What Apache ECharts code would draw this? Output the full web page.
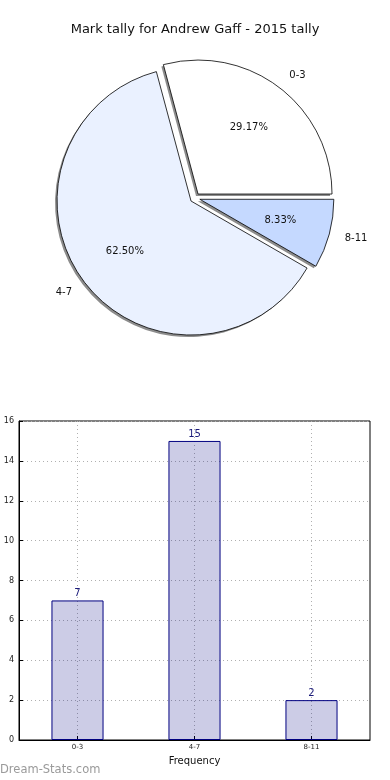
<!DOCTYPE html>
<html>
<head>
<meta charset="utf-8">
<script src="https://cdn.jsdelivr.net/npm/echarts@6/dist/echarts.min.js"></script>
<style>
html,body{margin:0;padding:0;background:#fff;}
#chart{width:390px;height:780px;}
</style>
</head>
<body>
<div id="chart"></div>
<script>
var titleText = 'Mark tally for Andrew Gaff - 2015 tally';
var categories = ['0-3', '4-7', '8-11'];
var counts = [7, 15, 2];
var percentLabels = ['29.17%', '62.50%', '8.33%'];
var sliceColors = ['#ffffff', '#eaf1ff', '#c5d9ff'];
var yTicks = [0, 2, 4, 6, 8, 10, 12, 14, 16];
var xAxisName = 'Frequency';
var yAxisName = 'Games with tally';
var watermark = 'Dream-Stats.com';

var FONT = '"DejaVu Sans", sans-serif';
var C = [195, 198];
var R = 134;

function pieData(extra) {
  return categories.map(function (c, i) {
    var d = { name: c, value: counts[i], selected: true };
    if (extra) extra(d, i);
    return d;
  });
}

var pieBase = { type: 'pie', startAngle: 0, clockwise: false, selectedMode: 'multiple', selectedOffset: 5, silent: true, emphasis: { disabled: true } };

var chart = echarts.init(document.getElementById('chart'), null, { renderer: 'canvas' });
chart.setOption({
  animation: false,
  backgroundColor: '#ffffff',
  title: [
    { text: titleText, left: 'center', top: 23, padding: 0, textStyle: { fontFamily: FONT, fontSize: 13, fontWeight: 'normal', color: '#111' } },
    { text: watermark, left: 0, top: 764, padding: 0, textStyle: { fontFamily: FONT, fontSize: 11.5, fontWeight: 'normal', color: '#9a9a9a' } }
  ],
  grid: { left: 19, right: 20, top: 421, bottom: 40, containLabel: false, outerBoundsMode: 'none', show: true, borderColor: '#000', borderWidth: 1, backgroundColor: 'transparent' },
  xAxis: {
    type: 'category', data: categories, boundaryGap: true,
    name: xAxisName, nameLocation: 'middle', nameGap: 16,
    nameTextStyle: { fontFamily: FONT, fontSize: 10, color: '#111' },
    axisLine: { show: true, lineStyle: { color: '#000' } },
    axisTick: { show: true, alignWithLabel: true, inside: true, length: 4, lineStyle: { color: '#000' } },
    axisLabel: { fontFamily: FONT, fontSize: 7, color: '#222', margin: 4 },
    splitLine: { show: true, alignWithLabel: true, lineStyle: { color: '#b0b0b0', type: [1, 3], width: 1 } }
  },
  yAxis: {
    type: 'value', min: yTicks[0], max: yTicks[yTicks.length - 1], interval: 2,
    name: yAxisName, nameLocation: 'middle', nameGap: 20,
    nameTextStyle: { fontFamily: FONT, fontSize: 9, color: '#111' },
    axisLine: { show: true, lineStyle: { color: '#000' } },
    axisTick: { show: true, inside: true, length: 4, lineStyle: { color: '#000' } },
    axisLabel: { fontFamily: FONT, fontSize: 8, color: '#222', margin: 5 },
    splitLine: { show: true, lineStyle: { color: '#b0b0b0', type: [1, 3], width: 1 } }
  },
  series: [
    Object.assign({}, pieBase, {
      center: [C[0] - 2, C[1] + 2], radius: [0, R], z: 1,
      data: pieData(),
      itemStyle: { color: '#8c8c8c', borderWidth: 0 },
      label: { show: false }, labelLine: { show: false }
    }),
    Object.assign({}, pieBase, {
      center: C, radius: [0, R], z: 2,
      data: pieData(function (d, i) { d.itemStyle = { color: sliceColors[i] }; }),
      itemStyle: { borderColor: '#000', borderWidth: 0.8 },
      label: { show: true, position: 'outside', formatter: '{b}', fontFamily: FONT, fontSize: 10, color: '#111', distanceToLabelLine: 0 },
      labelLine: { show: false, length: 16, length2: 0 }
    }),
    Object.assign({}, pieBase, {
      center: C, radius: [0, R * 1.2], z: 5,
      data: pieData(function (d, i) { d.label = { formatter: percentLabels[i] }; }),
      itemStyle: { color: 'rgba(0,0,0,0)', borderWidth: 0 },
      label: { show: true, position: 'inner', fontFamily: FONT, fontSize: 10, color: '#111' },
      labelLine: { show: false }
    }),
    {
      type: 'bar', data: counts, barWidth: '44.5%',
      itemStyle: { color: 'rgba(0,0,128,0.2)', borderColor: '#000080', borderWidth: 1 },
      label: { show: true, position: 'top', distance: 2, fontFamily: FONT, fontSize: 10, color: '#1a1a7a' },
      emphasis: { disabled: true }
    }
  ]
});
</script>
</body>
</html>
